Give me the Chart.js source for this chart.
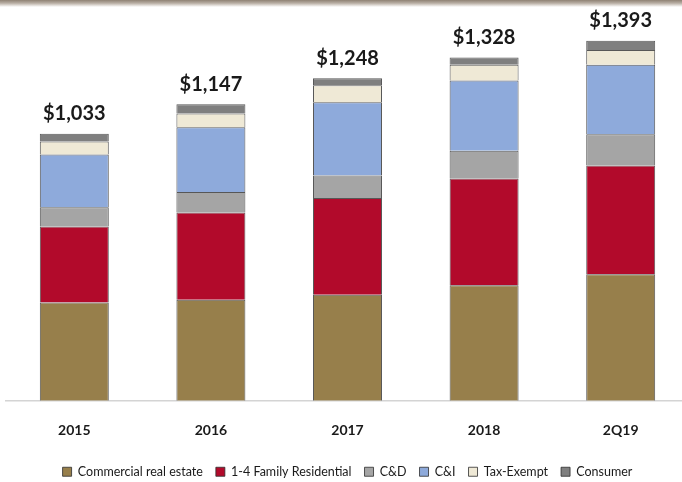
<!DOCTYPE html>
<html>
<head>
<meta charset="utf-8">
<script src="https://cdn.jsdelivr.net/npm/chart.js@4.4.0/dist/chart.umd.min.js"></script>
<style>
  html, body { margin: 0; padding: 0; background: #fff; }
  #wrap { position: relative; width: 682px; height: 482px; overflow: hidden; }
  #faixa { position: absolute; left: 0; top: 0; width: 682px; height: 7px;
    background: linear-gradient(to bottom, #8f8274 0%, #b8aea4 45%, #e6e2de 80%, #ffffff 100%); z-index: 2; }
  #grafico { position: absolute; left: 0; top: 0; }
</style>
</head>
<body>
<div id="wrap">
  <div id="faixa"></div>
  <canvas id="grafico" width="700" height="482"></canvas>
</div>
<script>
// categorias e valores (US$ milhões)
const anos = ['2015', '2016', '2017', '2018', '2Q19'];

const comercial = [380, 391, 410, 447, 489];
const familia = [294, 337, 374, 413, 421];
const cd = [74, 79, 87, 107, 121];
const ci = [205, 251, 284, 272, 269];
const isento = [50, 53, 65, 61, 57];
const consumo = [30, 36, 28, 28, 36];

const totais = ['$1,033', '$1,147', '$1,248', '$1,328', '$1,393'];

const borda = 'rgba(45, 45, 45, 0.8)';

function serie(label, data, cor) {
  return {
    label: label,
    data: data,
    backgroundColor: cor,
    borderColor: borda,
    borderWidth: 1,
    categoryPercentage: 1,
    barPercentage: 0.505
  };
}

// escreve o total acima de cada barra
const rotulosTotais = {
  id: 'rotulosTotais',
  afterDatasetsDraw(chart) {
    const ctx = chart.ctx;
    const y = chart.scales.y;
    const x = chart.scales.x;
    ctx.save();
    ctx.font = 'bold 20px Lato';
    ctx.fillStyle = '#1a1a1a';
    ctx.textAlign = 'center';
    ctx.textBaseline = 'middle';
    for (let i = 0; i < anos.length; i++) {
      const soma = comercial[i] + familia[i] + cd[i] + ci[i] + isento[i] + consumo[i];
      ctx.fillText(totais[i], x.getPixelForValue(i), y.getPixelForValue(soma) - 20);
    }
    ctx.restore();
  }
};

const grafico = new Chart(document.getElementById('grafico'), {
  type: 'bar',
  data: {
    labels: anos,
    datasets: [
      serie('Commercial real estate', comercial, '#977f4b'),
      serie('1-4 Family Residential', familia, '#b20a2b'),
      serie('C&D', cd, '#a5a5a5'),
      serie('C&I', ci, '#8eaadb'),
      serie('Tax-Exempt', isento, '#efe9d6'),
      serie('Consumer', consumo, '#7f7f7f')
    ]
  },
  options: {
    responsive: false,
    animation: false,
    layout: { padding: { left: 6, right: 11, top: 13, bottom: -6 } },
    scales: {
      x: {
        stacked: true,
        grid: { display: false, drawTicks: false },
        border: { color: '#d4d4d4', width: 1.5 },
        ticks: { color: '#1a1a1a', font: { family: 'Lato', size: 14, weight: 'bold' }, padding: 21 },
        // eixo mais baixo para a legenda ficar perto dos anos
        afterFit: function (scale) { scale.height = scale.height - 7; }
      },
      y: {
        stacked: true,
        display: false,
        min: 0,
        max: 1500
      }
    },
    plugins: {
      legend: {
        position: 'bottom',
        labels: {
          color: '#1a1a1a',
          font: { family: 'Lato', size: 12.5 },
          boxWidth: 9,
          boxHeight: 9,
          padding: 13
        }
      },
      tooltip: { enabled: false }
    }
  },
  plugins: [rotulosTotais]
});
</script>
</body>
</html>
